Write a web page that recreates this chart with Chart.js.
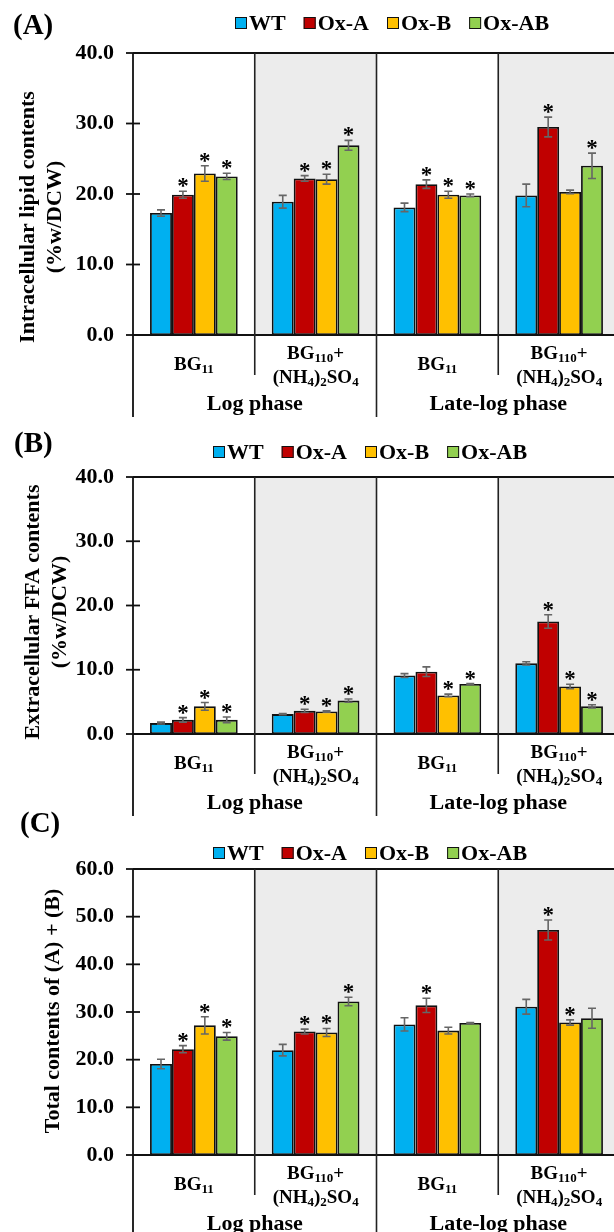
<!DOCTYPE html>
<html><head><meta charset="utf-8">
<script src="https://cdn.jsdelivr.net/npm/chart.js@4.4.0/dist/chart.umd.min.js"></script>
<style>
html,body{margin:0;padding:0;background:#fff;overflow:hidden;width:614px;height:1232px;position:relative;}
.p{position:absolute;left:0;}
</style></head><body>
<canvas id="cA" class="p" width="620" height="420" style="top:0px"></canvas>
<canvas id="cB" class="p" width="620" height="400" style="top:420px"></canvas>
<canvas id="cC" class="p" width="620" height="442" style="top:790px"></canvas>
<script>
// ---------- DATA ----------
const categories = ["BG11", "BG110+(NH4)2SO4", "BG11", "BG110+(NH4)2SO4"];
const phases = ["Log phase", "Late-log phase"];
const seriesNames = ["WT", "Ox-A", "Ox-B", "Ox-AB"];

// (A) Intracellular lipid contents (%w/DCW)
const lipidWT    = [17.3, 18.9, 18.1, 19.8];
const lipidOxA   = [19.9, 22.2, 21.4, 29.5];
const lipidOxB   = [22.9, 22.1, 19.9, 20.3];
const lipidOxAB  = [22.5, 26.9, 19.8, 24.0];
const lipidErrWT   = [0.45, 0.9, 0.6, 1.6];
const lipidErrOxA  = [0.5, 0.4, 0.6, 1.4];
const lipidErrOxB  = [1.1, 0.7, 0.5, 0.25];
const lipidErrOxAB = [0.45, 0.7, 0.2, 1.8];
const lipidStarWT   = [0, 0, 0, 0];
const lipidStarOxA  = [1, 1, 1, 1];
const lipidStarOxB  = [1, 1, 1, 0];
const lipidStarOxAB = [1, 1, 1, 1];

// (B) Extracellular FFA contents (%w/DCW)
const ffaWT    = [1.7, 3.1, 9.1, 11.0];
const ffaOxA   = [2.2, 3.6, 9.7, 17.5];
const ffaOxB   = [4.3, 3.5, 6.0, 7.4];
const ffaOxAB  = [2.2, 5.2, 7.8, 4.3];
const ffaErrWT   = [0.15, 0.1, 0.3, 0.25];
const ffaErrOxA  = [0.35, 0.25, 0.75, 1.05];
const ffaErrOxB  = [0.6, 0.1, 0.2, 0.35];
const ffaErrOxAB = [0.45, 0.25, 0.05, 0.25];
const ffaStarWT   = [0, 0, 0, 0];
const ffaStarOxA  = [1, 1, 0, 1];
const ffaStarOxB  = [1, 1, 1, 1];
const ffaStarOxAB = [1, 1, 1, 1];

// (C) Total contents of (A) + (B)
const totWT    = [19.1, 22.0, 27.4, 31.1];
const totOxA   = [22.2, 25.9, 31.4, 47.2];
const totOxB   = [27.2, 25.7, 26.1, 27.8];
const totOxAB  = [24.9, 32.2, 27.7, 28.7];
const totErrWT   = [1.0, 1.2, 1.4, 1.55];
const totErrOxA  = [0.75, 0.5, 1.5, 2.1];
const totErrOxB  = [1.8, 0.85, 0.7, 0.55];
const totErrOxAB = [0.8, 0.9, 0.1, 2.1];
const totStarWT   = [0, 0, 0, 0];
const totStarOxA  = [1, 1, 1, 1];
const totStarOxB  = [1, 1, 0, 1];
const totStarOxAB = [1, 1, 0, 0];

const yMaxA = 40, yMaxB = 40, yMaxC = 60, yStep = 10;

// ---------- STYLE ----------
const F = '"Liberation Serif","Times New Roman",serif';
const seriesColors = ['#00B0F0', '#C00000', '#FFC000', '#92D050'];
// rich-text versions of the category labels (1 = subscript)
const catRich = {
  "BG11": [[["BG",0],["11",1]]],
  "BG110+(NH4)2SO4": [[["BG",0],["110",1],["+",0]], [["(NH",0],["4",1],[")",0],["2",1],["SO",0],["4",1]]]
};

function drawRich(ctx, runs, cx, cy, size, subSize) {
  let w = 0;
  runs.forEach(r => { ctx.font = `bold ${r[1] ? subSize : size}px ${F}`; w += ctx.measureText(r[0]).width; });
  let x = cx - w / 2;
  ctx.textAlign = 'left'; ctx.textBaseline = 'middle';
  runs.forEach(r => {
    ctx.font = `bold ${r[1] ? subSize : size}px ${F}`;
    ctx.fillText(r[0], x, cy + (r[1] ? 5 : 0));
    x += ctx.measureText(r[0]).width;
  });
}

function panelPlugin(P) {
  return {
    id: 'panel' + P.label,
    beforeDatasetsDraw(chart) {
      const ctx = chart.ctx, a = chart.chartArea, xs = chart.scales.x;
      const cw = xs.getPixelForValue(1) - xs.getPixelForValue(0);
      ctx.save();
      ctx.fillStyle = '#ECECEC';
      [1, 3].forEach(i => {
        const l = xs.getPixelForValue(i) - cw / 2;
        ctx.fillRect(l, a.top, cw, a.bottom - a.top);
      });
      ctx.restore();
    },
    afterDatasetsDraw(chart) {
      const ctx = chart.ctx, a = chart.chartArea, xs = chart.scales.x, ys = chart.scales.y;
      const cw = xs.getPixelForValue(1) - xs.getPixelForValue(0);
      ctx.save();
      // frame lines
      ctx.strokeStyle = '#111'; ctx.lineWidth = 1.8;
      ctx.beginPath();
      ctx.moveTo(a.left, a.top); ctx.lineTo(a.right, a.top);
      ctx.moveTo(a.left, a.bottom); ctx.lineTo(a.right, a.bottom);
      ctx.moveTo(a.left, a.top); ctx.lineTo(a.left, a.bottom + 82);
      ctx.stroke();
      // y ticks crossing the axis
      ys.ticks.forEach(t => {
        const y = ys.getPixelForValue(t.value);
        ctx.beginPath(); ctx.moveTo(a.left - 7, y); ctx.lineTo(a.left + 7, y); ctx.stroke();
      });
      // category dividers
      ctx.strokeStyle = '#222'; ctx.lineWidth = 1.6;
      for (let i = 1; i < categories.length; i++) {
        const x = xs.getPixelForValue(i) - cw / 2;
        ctx.beginPath(); ctx.moveTo(x, a.top); ctx.lineTo(x, a.bottom + (i === 2 ? 82 : 40)); ctx.stroke();
      }
      // error bars
      ctx.strokeStyle = '#666'; ctx.lineWidth = 1.6;
      chart.data.datasets.forEach((ds, di) => {
        const meta = chart.getDatasetMeta(di);
        meta.data.forEach((bar, j) => {
          const v = ds.data[j], e = P.errs[di][j];
          const y1 = ys.getPixelForValue(v + e), y2 = ys.getPixelForValue(v - e), x = bar.x;
          ctx.beginPath();
          ctx.moveTo(x, y1); ctx.lineTo(x, y2);
          ctx.moveTo(x - 4, y1); ctx.lineTo(x + 4, y1);
          ctx.moveTo(x - 4, y2); ctx.lineTo(x + 4, y2);
          ctx.stroke();
          if (P.stars[di][j]) {
            ctx.fillStyle = '#000';
            ctx.font = `bold 23px ${F}`;
            ctx.textAlign = 'center'; ctx.textBaseline = 'alphabetic';
            ctx.fillText('*', x, y1 + 2);
          }
        });
      });
      // x labels
      ctx.fillStyle = '#000';
      categories.forEach((c, i) => {
        const cx = xs.getPixelForValue(i);
        const lines = catRich[c];
        if (lines.length === 1) drawRich(ctx, lines[0], cx, a.bottom + 30, 19, 13);
        else { drawRich(ctx, lines[0], cx, a.bottom + 19, 19, 13); drawRich(ctx, lines[1], cx, a.bottom + 43, 19, 13); }
      });
      ctx.font = `bold 22px ${F}`; ctx.textAlign = 'center'; ctx.textBaseline = 'middle';
      phases.forEach((p, k) => {
        const cx = (xs.getPixelForValue(2 * k) + xs.getPixelForValue(2 * k + 1)) / 2;
        ctx.fillText(p, cx, a.bottom + 69);
      });
      // legend
      let lx = P.legendX;
      ctx.font = `bold 22px ${F}`; ctx.textAlign = 'left'; ctx.textBaseline = 'middle';
      chart.data.datasets.forEach(ds => {
        ctx.fillStyle = ds.backgroundColor;
        ctx.fillRect(lx, P.legendY - 6, 12, 12);
        ctx.strokeStyle = '#111'; ctx.lineWidth = 1;
        ctx.strokeRect(lx + 0.5, P.legendY - 5.5, 11, 11);
        ctx.fillStyle = '#000';
        ctx.fillText(ds.label, lx + 14, P.legendY + 1);
        lx += 14 + ctx.measureText(ds.label).width + 18;
      });
      // y title
      ctx.font = `bold 22px ${F}`; ctx.textAlign = 'center'; ctx.textBaseline = 'middle';
      P.title.forEach(t => {
        ctx.save(); ctx.translate(t.x, P.titleY); ctx.rotate(-Math.PI / 2);
        ctx.fillText(t.text, 0, 0); ctx.restore();
      });
      // panel label
      ctx.font = `bold 29px ${F}`; ctx.textAlign = 'left'; ctx.textBaseline = 'middle';
      ctx.fillText(P.label, P.labelX, P.labelY);
      ctx.restore();
    }
  };
}

function makePanel(id, P, values) {
  const ctx = document.getElementById(id).getContext('2d');
  return new Chart(ctx, {
    type: 'bar',
    data: {
      labels: categories,
      datasets: seriesNames.map((n, i) => ({
        label: n, data: values[i], backgroundColor: seriesColors[i],
        borderColor: '#111', borderWidth: 1.8, borderSkipped: false,
        categoryPercentage: 0.72, barPercentage: 1
      }))
    },
    options: {
      responsive: false, animation: false, devicePixelRatio: 1,
      layout: { padding: { top: P.plotTop, bottom: P.h - P.plotBottom, left: 0, right: 0 } },
      plugins: { legend: { display: false }, tooltip: { enabled: false } },
      scales: {
        x: { display: false, offset: true },
        y: {
          min: 0, max: P.yMax,
          afterFit: s => { s.width = 133; },
          border: { display: false },
          grid: { display: false, drawTicks: false },
          ticks: { stepSize: yStep, padding: 19, color: '#000',
            font: { family: F, size: 22, weight: 'bold' },
            callback: v => v.toFixed(1) }
        }
      }
    },
    plugins: [panelPlugin(P)]
  });
}

makePanel('cA', {
  label: '(A)', labelX: 13, labelY: 27, h: 420, plotTop: 53, plotBottom: 335, yMax: yMaxA,
  legendX: 235, legendY: 23, titleY: 217,
  title: [{ text: 'Intracellular lipid contents', x: 28 }, { text: '(%w/DCW)', x: 55 }],
  errs: [lipidErrWT, lipidErrOxA, lipidErrOxB, lipidErrOxAB],
  stars: [lipidStarWT, lipidStarOxA, lipidStarOxB, lipidStarOxAB]
}, [lipidWT, lipidOxA, lipidOxB, lipidOxAB]);

makePanel('cB', {
  label: '(B)', labelX: 14, labelY: 25, h: 400, plotTop: 57, plotBottom: 314, yMax: yMaxB,
  legendX: 213, legendY: 32, titleY: 192,
  title: [{ text: 'Extracellular FFA contents', x: 33 }, { text: '(%w/DCW)', x: 60 }],
  errs: [ffaErrWT, ffaErrOxA, ffaErrOxB, ffaErrOxAB],
  stars: [ffaStarWT, ffaStarOxA, ffaStarOxB, ffaStarOxAB]
}, [ffaWT, ffaOxA, ffaOxB, ffaOxAB]);

makePanel('cC', {
  label: '(C)', labelX: 20, labelY: 35, h: 442, plotTop: 79, plotBottom: 365, yMax: yMaxC,
  legendX: 213, legendY: 63, titleY: 221,
  title: [{ text: 'Total contents of (A) + (B)', x: 53 }],
  errs: [totErrWT, totErrOxA, totErrOxB, totErrOxAB],
  stars: [totStarWT, totStarOxA, totStarOxB, totStarOxAB]
}, [totWT, totOxA, totOxB, totOxAB]);
</script>
</body></html>
